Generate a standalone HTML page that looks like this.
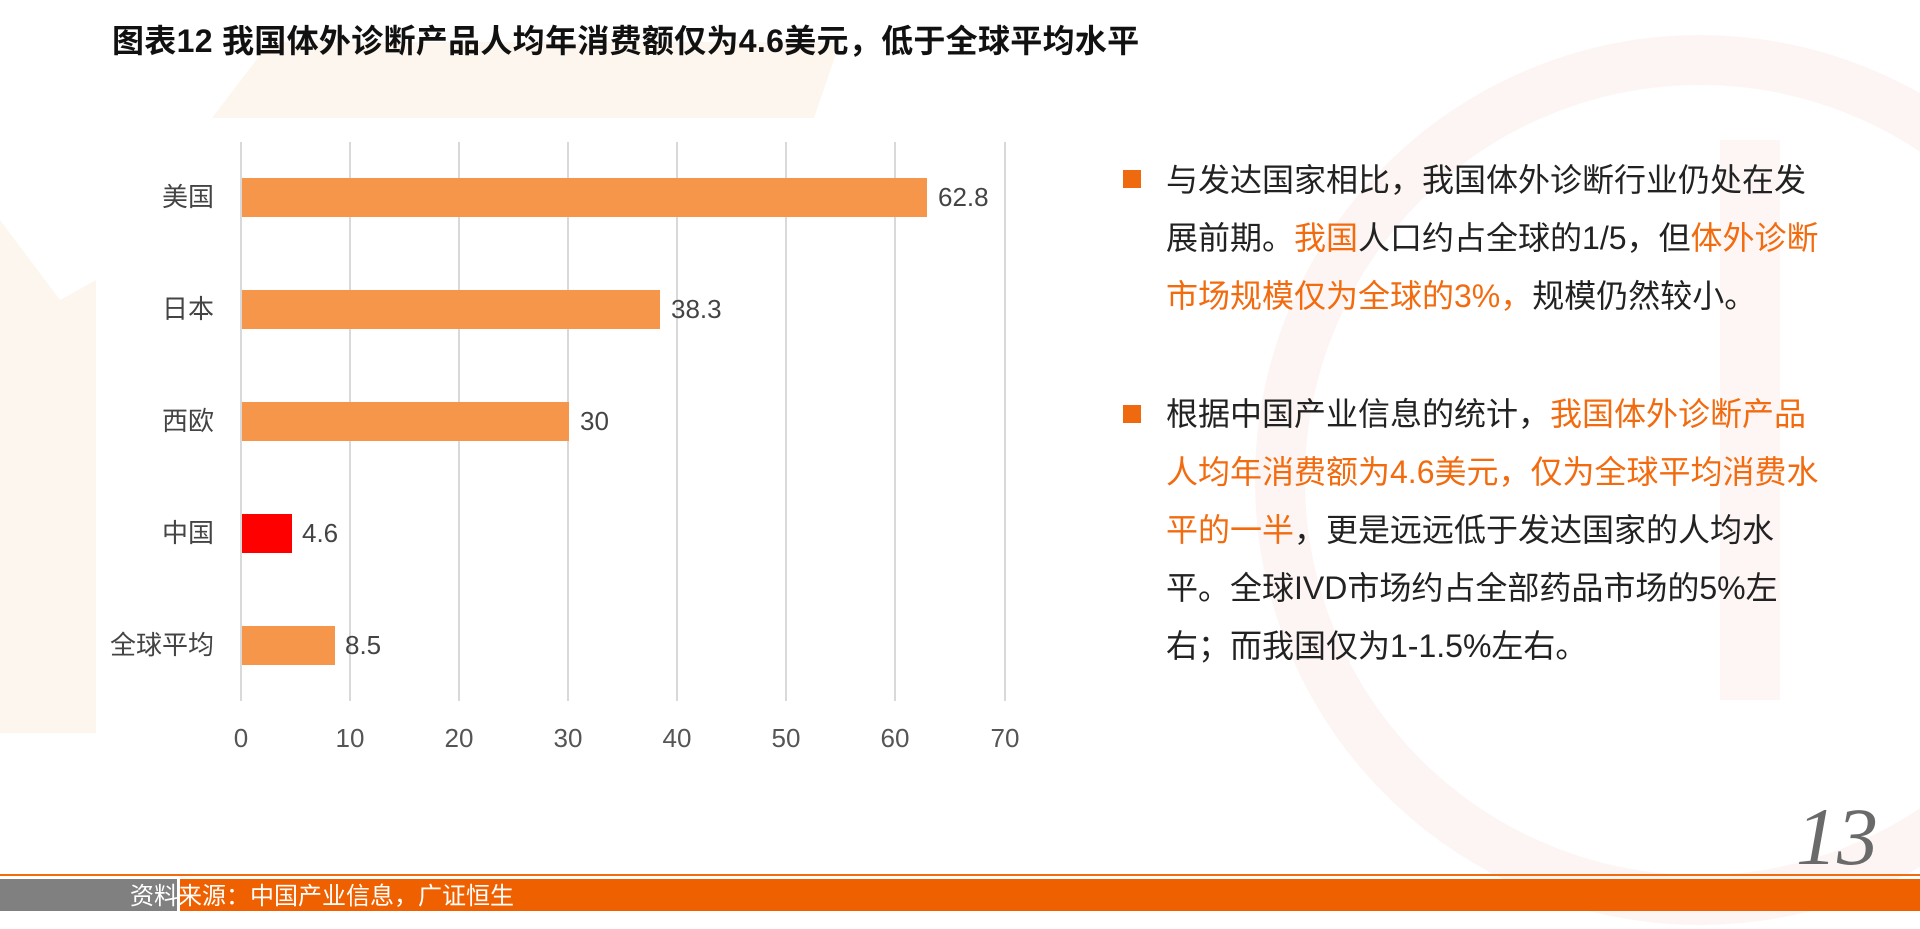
<!DOCTYPE html>
<html><head><meta charset="utf-8"><style>
body{margin:0;width:1920px;height:929px;overflow:hidden;background:#fff;position:relative;font-family:"Liberation Sans","Noto Sans CJK SC",sans-serif}
.a{position:absolute;white-space:nowrap}
.g{position:absolute;top:142px;height:559px;width:2px;background:#d9d9d9}
.bar{position:absolute;left:242px;height:39px;background:#f5964a}
.cat{position:absolute;right:1706px;font-size:26px;color:#444;line-height:39px}
.val{position:absolute;font-size:26px;color:#444;line-height:39px}
.tk{position:absolute;top:723px;font-size:26px;color:#555;width:60px;text-align:center}
.p{position:absolute;left:1166px;font-size:32px;color:#222;line-height:58px;white-space:nowrap}
.o{color:#f26b0f}
.sq{position:absolute;left:1123px;width:18px;height:18px;background:#ef6a0e}
</style></head><body>
<svg class="a" style="left:0;top:0" width="1920" height="929">
<polygon points="212,118 814,118 840,42 270,42" fill="#fdf6ee"/>
<polygon points="0,220 60,300 96,280 96,733 0,733" fill="#fdf6ee"/>
<circle cx="1700" cy="480" r="420" fill="none" stroke="#fdf5f4" stroke-width="50"/>
<rect x="1720" y="140" width="60" height="560" fill="#fdf6f5"/>
</svg>
<div class="a" style="left:112px;top:16px;font-size:32px;font-weight:bold;color:#111;letter-spacing:0.3px">图表12 我国体外诊断产品人均年消费额仅为4.6美元，低于全球平均水平</div>
<div class="g" style="left:240px"></div><div class="g" style="left:349px"></div><div class="g" style="left:458px"></div><div class="g" style="left:567px"></div><div class="g" style="left:676px"></div><div class="g" style="left:785px"></div><div class="g" style="left:894px"></div><div class="g" style="left:1004px"></div>
<div class="bar" style="top:178px;width:685px"></div>
<div class="bar" style="top:290px;width:418px"></div>
<div class="bar" style="top:402px;width:327px"></div>
<div class="bar" style="top:514px;width:50px;background:#ff0000"></div>
<div class="bar" style="top:626px;width:93px"></div>
<div class="cat" style="top:178px">美国</div><div class="cat" style="top:290px">日本</div><div class="cat" style="top:402px">西欧</div><div class="cat" style="top:514px">中国</div><div class="cat" style="top:626px">全球平均</div>
<div class="val" style="top:178px;left:938px">62.8</div><div class="val" style="top:290px;left:671px">38.3</div><div class="val" style="top:402px;left:580px">30</div><div class="val" style="top:514px;left:302px">4.6</div><div class="val" style="top:626px;left:345px">8.5</div>
<div class="tk" style="left:211px">0</div><div class="tk" style="left:320px">10</div><div class="tk" style="left:429px">20</div><div class="tk" style="left:538px">30</div><div class="tk" style="left:647px">40</div><div class="tk" style="left:756px">50</div><div class="tk" style="left:865px">60</div><div class="tk" style="left:975px">70</div>
<div class="sq" style="top:170px"></div>
<div class="p" style="top:151px">与发达国家相比，我国体外诊断行业仍处在发<br>展前期。<span class="o">我国</span>人口约占全球的1/5，但<span class="o">体外诊断</span><br><span class="o">市场规模仅为全球的3%，</span>规模仍然较小。</div>
<div class="sq" style="top:405px"></div>
<div class="p" style="top:385px">根据中国产业信息的统计，<span class="o">我国体外诊断产品</span><br><span class="o">人均年消费额为4.6美元，仅为全球平均消费水</span><br><span class="o">平的一半</span>，更是远远低于发达国家的人均水<br>平。全球IVD市场约占全部药品市场的5%左<br>右；而我国仅为1-1.5%左右。</div>
<div class="a" style="left:1796px;top:790px;font-family:'Liberation Serif',serif;font-style:italic;font-size:82px;color:#6a6a6a">13</div>
<div class="a" style="left:0;top:874px;width:1920px;height:2px;background:#f26b0f"></div>
<div class="a" style="left:0;top:879px;width:177px;height:32px;background:#808080"></div>
<div class="a" style="left:180px;top:879px;width:1740px;height:32px;background:#ef6100"></div>
<div class="a" style="left:130px;top:882px;font-size:24px;color:#fff;line-height:30px">资料来源：中国产业信息，广证恒生</div>
</body></html>
